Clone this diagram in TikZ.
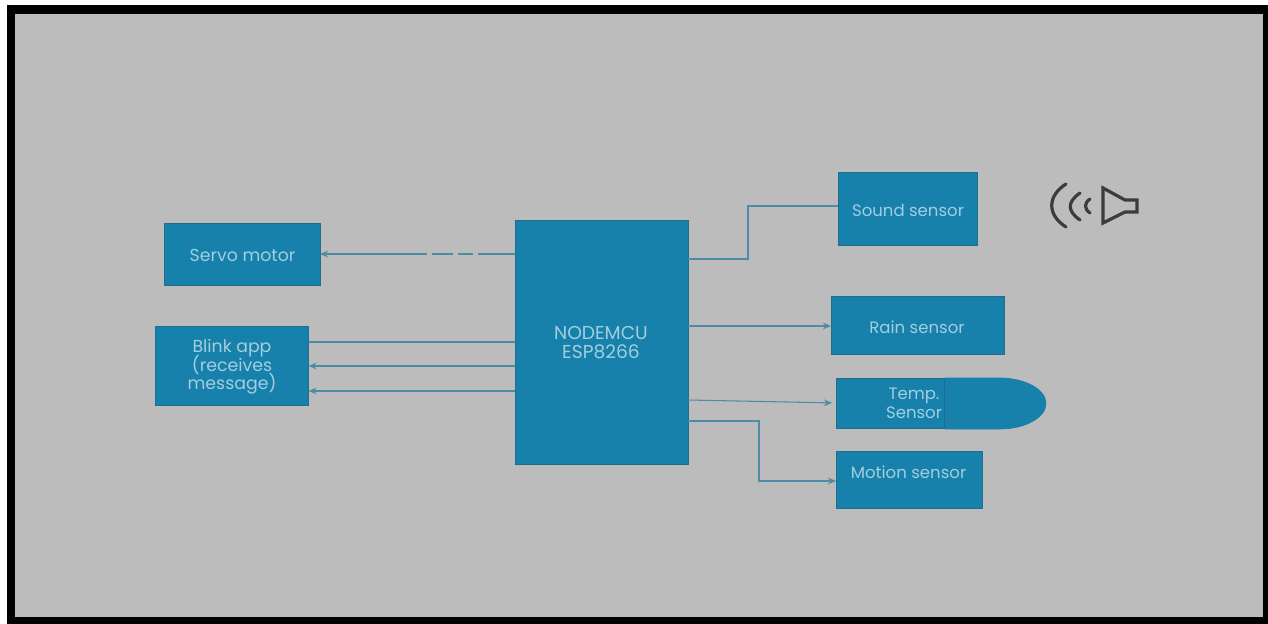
\documentclass[tikz,border=0pt]{standalone}
\usepackage{fontspec}
\setmainfont{Poppins}
\usetikzlibrary{arrows.meta,calc}
\definecolor{boxfill}{HTML}{1780AB}
\definecolor{boxline}{HTML}{1F6E8E}
\definecolor{wire}{HTML}{4D8CA6}
\definecolor{boxtext}{HTML}{A2CFDF}
\definecolor{panel}{HTML}{BCBCBC}
\definecolor{icon}{HTML}{3A3D3E}
\tikzset{
  x=0.75pt,y=-0.75pt,
  pxbox/.style n args={2}{draw=boxline,fill=boxfill,line width=0.7pt,inner sep=0pt,outer sep=0pt,
    minimum width=#1*0.75pt,minimum height=#2*0.75pt},
  boxlabel/.style={text=boxtext,font=\fontsize{12.4}{14.2}\selectfont,align=center,inner sep=0pt},
  wireline/.style={draw=wire,line width=0.8pt},
  wirearrow/.style={wireline,-{Stealth[length=6pt,width=5pt]}},
  iconline/.style={draw=icon,line width=2.4pt}
}
\begin{document}
\begin{tikzpicture}
\useasboundingbox (0,0) rectangle (1268,624);
\fill[white] (0,0) rectangle (1268,624);
\fill[black] (7,5) rectangle (1268,624);
\fill[panel] (15,14) rectangle (1263,617);

% boxes
\node[pxbox={155.5}{62}] (servo) at (242.25,254) {};
\node[pxbox={153.5}{79}] (blink) at (231.75,365.5) {};
\node[pxbox={173}{244}] (mcu) at (601.5,342) {};
\node[pxbox={139}{73}] (sound) at (907.5,208.5) {};
\node[pxbox={173}{58}] (rain) at (917.5,325) {};
\fill[boxfill,draw=boxfill,line width=0.5pt] (945,378) -- (1000,378) .. controls (1025,378) and (1046,389.5) .. (1046,403.5) .. controls (1046,417.5) and (1025,429) .. (1000,429) -- (945,429) -- cycle;
\node[pxbox={108}{50}] (temp) at (890,403) {};
\node[pxbox={146}{57}] (motion) at (909,479.5) {};

% labels
\node[boxlabel,font=\fontsize{13}{14.2}\selectfont] (servotext) at (242.5,255) {Servo motor};
\node[boxlabel,font=\fontsize{13}{14.2}\selectfont] (blinktext) at (232,366.5) {Blink app\\[-2.2pt](receives\\[-2.2pt]message)};
\node[boxlabel,font=\fontsize{14}{14.5}\selectfont] (mcutext) at (601,342.5) {NODEMCU\\ESP8266};
\node[boxlabel] (soundtext) at (908,210) {Sound sensor};
\node[boxlabel] (raintext) at (917,327) {Rain sensor};
\node[boxlabel] (temptext) at (914,403) {Temp.\\Sensor};
\node[boxlabel] (motiontext) at (908.5,472) {Motion sensor};

% connector levels
\coordinate (b1) at (515,342);
\coordinate (b2) at (515,366);
\coordinate (b3) at (515,391);
\coordinate (s1) at (689,259);
\coordinate (s2) at (748,259);
\coordinate (s3) at (748,206);
\coordinate (r1) at (689,326);
\coordinate (t1) at (689,400);
\coordinate (t2) at (836,403);
\coordinate (m1) at (689,421);
\coordinate (m2) at (759,421);
\coordinate (m3) at (759,481);

\draw[wirearrow,dash pattern=on 28pt off 3.75pt on 11pt off 3.75pt on 16pt off 3.75pt on 400pt] (mcu.west |- servo.east) -- (servo.east);
\draw[wireline] (mcu.west |- b1) -- (blink.east |- b1);
\draw[wirearrow] (mcu.west |- b2) -- (blink.east |- b2);
\draw[wirearrow] (mcu.west |- b3) -- (blink.east |- b3);
\draw[wireline] (mcu.east |- s1) -- (s2) -- (s3) -- (sound.west |- s3);
\draw[wirearrow] (mcu.east |- r1) -- (rain.west |- r1);
\draw[wirearrow,shorten >=3pt] (mcu.east |- t1) -- (temp.west |- t2);
\draw[wirearrow] (mcu.east |- m1) -- (m2) -- (m3) -- (motion.west |- m3);

% speaker icon
\draw[iconline,line cap=round] (1066,184) .. controls (1047,196) and (1047,215) .. (1066,227);
\draw[iconline,line cap=round] (1080,193) .. controls (1067,202) and (1067,211) .. (1080,220);
\draw[iconline,line cap=round] (1090,199) .. controls (1084,203) and (1084,209) .. (1090,213);
\draw[iconline,line join=miter] (1103,188) -- (1125,200) -- (1137,200) -- (1137,212) -- (1125,212) -- (1103,223) -- cycle;
\end{tikzpicture}
\end{document}
